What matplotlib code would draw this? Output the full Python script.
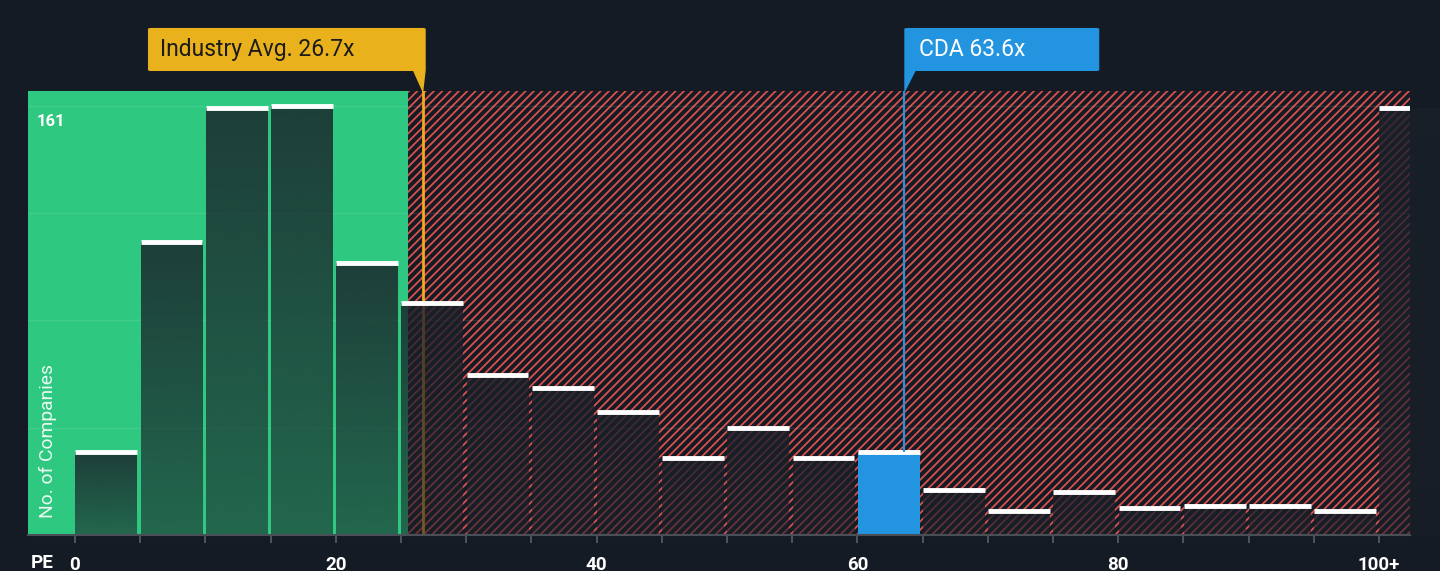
import matplotlib
matplotlib.use("Agg")
import matplotlib.pyplot as plt
import numpy as np
from matplotlib.patches import FancyBboxPatch, Polygon
from matplotlib.transforms import blended_transform_factory
from matplotlib.colors import to_rgb

# data
bin_starts = list(range(0, 105, 5))
company_counts = [31, 110, 160, 161, 102, 87, 60, 55, 46, 29, 40, 29, 31, 17, 9, 16, 10, 11, 11, 9, 160]
tick_values = [0, 20, 40, 60, 80, 100]
tick_labels = ["0", "20", "40", "60", "80", "100+"]
industry_avg = 26.7
company_pe = 63.6
company_name = "CDA"
fair_limit = 25.55
y_top_label = 161

BG = "#151b24"
GREEN = "#2ec880"
RED = "#d9514f"
YELLOW = "#e9b11c"
BLUE = "#2394df"
DARK = "#1a2029"

plt.rcParams["font.family"] = ["Roboto", "DejaVu Sans"]
plt.rcParams["hatch.linewidth"] = 1.3

fig = plt.figure(figsize=(14.4, 5.71), dpi=100, facecolor=BG)
ax = fig.add_axes([28 / 1440, 36 / 571, 1382 / 1440, 444 / 571])
ax.set_facecolor(BG)

x_left, x_right = -3.6, 102.38
y_max = 166.5

# background zones
ax.axvspan(x_left, fair_limit, color=GREEN, lw=0, zorder=0)
ax.axvspan(fair_limit, x_right, facecolor=BG, edgecolor=RED, hatch="////", lw=0, zorder=0)

# faint grid
for gy in np.linspace(0, y_top_label, 5)[1:]:
    ax.axhline(gy, color="white", alpha=0.09, lw=1, zorder=1)

ax.axvline(industry_avg, color="#f0aa1e", lw=2, zorder=1.5)

# bars
bar_w = 4.75
lefts = [b + 0.03 for b in bin_starts]
bars = ax.bar(lefts, company_counts, width=bar_w, align="edge",
              color="none", lw=0, zorder=2)

dark = np.array(to_rgb(DARK))
grad = np.zeros((64, 1, 4))
grad[:, 0, :3] = dark
grad[:, 0, 3] = np.linspace(0.82, 0.58, 64)

for i, patch in enumerate(bars.patches):
    x0, w, h = patch.get_x(), patch.get_width(), patch.get_height()
    if bin_starts[i] <= company_pe < bin_starts[i] + 5:
        patch.set_facecolor(BLUE)
        continue
    im = ax.imshow(grad, extent=(x0, x0 + w, 0, h), aspect="auto",
                   interpolation="bilinear", zorder=2)
    im.set_clip_path(patch)

ax.hlines(company_counts, lefts, [l + bar_w for l in lefts],
          colors="white", lw=3.5, zorder=3)

# company marker line
cda_idx = bin_starts.index(int(company_pe // 5 * 5))
ax.plot([company_pe, company_pe], [company_counts[cda_idx], y_max],
        color=BLUE, lw=1.5, zorder=3, solid_capstyle="butt")

ax.set_xlim(x_left, x_right)
ax.set_ylim(0, y_max)

# axes styling
for s in ["top", "right", "left"]:
    ax.spines[s].set_visible(False)
ax.spines["bottom"].set_color("#4a4f57")
ax.spines["bottom"].set_linewidth(1.5)
ax.set_yticks([])
ax.set_xticks(tick_values)
ax.set_xticklabels(tick_labels)
ax.set_xticks(bin_starts, minor=True)
ax.tick_params(axis="x", which="both", length=6, width=1.2, color="#5a5f66",
               labelcolor="white", pad=9)
for lbl in ax.get_xticklabels():
    lbl.set_fontsize(13.5)
    lbl.set_fontweight("bold")

ax.text(0.0065, (y_top_label - 3) / y_max, str(y_top_label), transform=ax.transAxes,
        color="white", fontsize=12, fontweight="bold", va="top", ha="left", zorder=4)
ax.text(0.0145, 0.038, "No. of Companies", transform=ax.transAxes, rotation=90,
        color="white", alpha=0.9, fontsize=13.9, ha="center", va="bottom", zorder=4)
fig.text(31 / 1440, 8 / 571, "PE", color="white", fontsize=13.5,
         fontweight="bold", va="center", ha="left")

# callout boxes
tr = blended_transform_factory(ax.transData, ax.transAxes)
box_lo, box_hi = 1.045, 1.142

ind_box = FancyBboxPatch((industry_avg - 21.1, box_lo), 21.3, box_hi - box_lo,
                         boxstyle="round,pad=0,rounding_size=0.25", transform=tr,
                         facecolor=YELLOW, lw=0, clip_on=False, zorder=5,
                         mutation_aspect=0.01)
ax.add_patch(ind_box)
ax.add_patch(Polygon([(industry_avg - 0.8, box_lo + 0.002), (industry_avg + 0.2, box_lo + 0.002),
                      (industry_avg, 0.995)], closed=True, transform=tr,
                     facecolor=YELLOW, lw=0, clip_on=False, zorder=5))
ax.text(industry_avg - 20.2, (box_lo + box_hi) / 2, f"Industry Avg. {industry_avg}x",
        transform=tr, color="#1b1b1b", fontsize=16.5, va="center", ha="left", zorder=6)

cda_box = FancyBboxPatch((company_pe, box_lo), 14.95, box_hi - box_lo,
                         boxstyle="round,pad=0,rounding_size=0.25", transform=tr,
                         facecolor=BLUE, lw=0, clip_on=False, zorder=5,
                         mutation_aspect=0.01)
ax.add_patch(cda_box)
ax.add_patch(Polygon([(company_pe, box_lo + 0.002), (company_pe + 0.9, box_lo + 0.002),
                      (company_pe, 0.995)], closed=True, transform=tr,
                     facecolor=BLUE, lw=0, clip_on=False, zorder=5))
ax.text(company_pe + 1.15, (box_lo + box_hi) / 2, f"{company_name} {company_pe}x",
        transform=tr, color="white", fontsize=16.5, va="center", ha="left", zorder=6)

fig.savefig("out.png", dpi=100, facecolor=BG)
